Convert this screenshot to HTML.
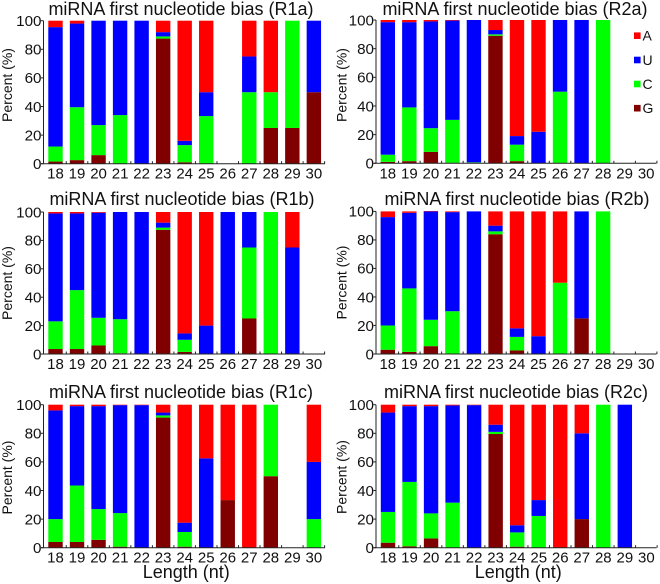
<!DOCTYPE html>
<html><head><meta charset="utf-8"><title>miRNA first nucleotide bias</title>
<style>html,body{margin:0;padding:0;background:#fff}svg{display:block;font-family:"Liberation Sans",sans-serif;filter:blur(0.35px)}</style></head>
<body>
<svg id="chart" xmlns="http://www.w3.org/2000/svg" width="660" height="584" viewBox="0 0 660 584"></svg>
<script>
const lengths = [18,19,20,21,22,23,24,25,26,27,28,29,30];
const yTicks = [0,20,40,60,80,100];
const r1aG = [1.5,2.5,6,0,0,87.5,1,0,0,0,25,25,50];
const r1aC = [10.5,37,21,34,0,1.5,12,33.3,0,50,25,75,0];
const r1aU = [83.5,58.5,73,66,100,3,3,16.7,0,25,0,0,50];
const r1aA = [4.5,2,0,0,0,8,84,50,0,25,50,0,0];
const r2aG = [1,1.5,8,0.3,0,89,1.5,0,0,0,0,0,0];
const r2aC = [5,37.5,16.5,30,0.7,1,11.5,0,50,0,100,0,0];
const r2aU = [92.5,59.5,74.5,69.3,99.3,3,6,22,50,100,0,0,0];
const r2aA = [1.5,1.5,1,0.4,0,7,81,78,0,0,0,0,0];
const r1bG = [3.5,3.5,6,0.5,0,87.5,1.5,0,0,25,0,0,0];
const r1bC = [19.5,41.5,19.5,24,0,1.5,8.5,0,0,50,100,0,0];
const r1bU = [76,54,74,75.5,100,3.5,4.5,20,100,25,0,75,0];
const r1bA = [1,1,0.5,0,0,7.5,85.5,80,0,0,0,25,0];
const r2bG = [3,1.5,5.5,0.3,0,84,2.5,0,0,25,0,0,0];
const r2bC = [17,44.5,18.5,29.7,0,2,9.5,0,50,0,100,0,0];
const r2bU = [76,53,76,69.5,100,4,6,12.5,0,75,0,0,0];
const r2bA = [4,1,0.3,0.5,0,10,82,87.5,50,0,0,0,0];
const r1cG = [4,4,5.5,0.7,0,91,0.7,0,33.3,0,50,0,0];
const r1cC = [16,39.5,21.5,23.5,0,1.5,10.3,0,0,0,50,0,20];
const r1cU = [76,55.5,72,75.5,99.7,2,6.5,62.5,0,0,0,0,40];
const r1cA = [4,1,1,0.3,0.3,5.5,82.5,37.5,66.7,100,0,0,40];
const r2cG = [3.5,1,6.5,0,0,79.5,0.7,0,0,20,0,0,0];
const r2cC = [21.5,45,17.5,31.5,0,1.5,10,22.2,0,0,100,0,0];
const r2cU = [69.5,53,75,68,99.7,5,5,11.1,0,60,0,100,0];
const r2cA = [5.5,1,1,0.5,0.3,14,84.3,66.7,100,20,0,0,0];

const NS = 'http://www.w3.org/2000/svg';
const svg = document.getElementById('chart');
const STEP = 21.53, BARW = 14.4;
const colors = {G:'#800000', C:'#00ff00', U:'#0000ff', A:'#ff0000'};
const panels = [
  {id:'R1a', x0:55.5, top:20.7, bot:163.7, ax0:43.5, ax1:325, title:[181,15], ylx:12, yly:85, g:r1aG,c:r1aC,u:r1aU,a:r1aA},
  {id:'R2a', x0:387.8, top:20, bot:163.3, ax0:376, ax1:656.5, title:[515,15], ylx:346.7, yly:85, g:r2aG,c:r2aC,u:r2aU,a:r2aA},
  {id:'R1b', x0:55.5, top:212, bot:354, ax0:43.5, ax1:325, title:[182,205], ylx:12, yly:283, g:r1bG,c:r1bC,u:r1bU,a:r1bA},
  {id:'R2b', x0:387.8, top:211.4, bot:354, ax0:376, ax1:656.5, title:[517,205], ylx:346.7, yly:282.5, g:r2bG,c:r2bC,u:r2bU,a:r2bA},
  {id:'R1c', x0:55.5, top:404.7, bot:547.7, ax0:43.5, ax1:325, title:[181,398], ylx:12, yly:477.5, g:r1cG,c:r1cC,u:r1cU,a:r1cA},
  {id:'R2c', x0:388, top:404.7, bot:547.7, ax0:376, ax1:656.5, title:[516,398], ylx:346.7, yly:477, g:r2cG,c:r2cC,u:r2cU,a:r2cA}
];
function mk(tag, attrs, parent, text) {
  const el = document.createElementNS(NS, tag);
  for (const k in attrs) el.setAttribute(k, attrs[k]);
  if (text !== undefined) el.textContent = text;
  parent.appendChild(el);
  return el;
}
const AXC = '#222';
panels.forEach(function (p) {
  const key = p.id.toLowerCase();
  const xs = function (i) { return p.x0 + i * STEP; };
  const ys = function (v) { return p.bot - (p.bot - p.top) * v / 100; };
  const g = mk('g', {}, svg);
  
  

  const title = mk('text', {x:p.title[0], y:p.title[1], 'text-anchor':'middle', 'font-size':18, fill:'#111'}, g, 'miRNA first nucleotide bias (' + p.id + ')');
  
  

  const stacks = [['G',p.g],['C',p.c],['U',p.u],['A',p.a]];
  lengths.forEach(function (len, i) {
    let cum = 0;
    stacks.forEach(function (s) {
      const v = s[1][i];
      if (v > 0) {
        const r = mk('rect', {x:xs(i) - BARW / 2, y:ys(cum + v), width:BARW, height:ys(cum) - ys(cum + v), fill:colors[s[0]]}, g);
        
        
      }
      cum += v;
    });
    const lab = mk('text', {x:xs(i), y:p.bot + 15, 'text-anchor':'middle', 'font-size':15, fill:'#111'}, g, String(len));
    
    
    const tk = mk('line', {x1:xs(i) + STEP / 2, x2:xs(i) + STEP / 2, y1:p.bot, y2:p.bot - 2.5, stroke:AXC, 'stroke-width':1}, g);
    
    
  });

  yTicks.forEach(function (t) {
    const tk = mk('line', {x1:p.ax0 - 2.5, x2:p.ax0, y1:ys(t), y2:ys(t), stroke:AXC, 'stroke-width':1}, g);
    
    
    const lab = mk('text', {x:p.ax0 - 2, y:ys(t) + 5.3, 'text-anchor':'end', 'font-size':15.2, fill:'#111'}, g, String(t));
    
    
  });

  const xa = mk('line', {x1:p.ax0 - 2.5, x2:p.ax1, y1:p.bot, y2:p.bot, stroke:AXC, 'stroke-width':1}, g);
  
  
  const ya = mk('line', {x1:p.ax0, x2:p.ax0, y1:p.top, y2:p.bot, stroke:AXC, 'stroke-width':1}, g);
  
  

  const yl = mk('text', {x:p.ylx, y:p.yly, 'text-anchor':'middle', 'font-size':14, fill:'#111', transform:'rotate(-90 ' + p.ylx + ' ' + p.yly + ')'}, g, 'Percent (%)');
  
  

  if (p.id === 'R1c' || p.id === 'R2c') {
    const xl = mk('text', {x:(p.ax0 + p.ax1) / 2 + 2, y:578, 'text-anchor':'middle', 'font-size':18, fill:'#111'}, g, 'Length (nt)');
    
    
  }
});

const legendKeys = ['A','U','C','G'];
const legendRows = [35.7, 60, 84, 108.2];
const legend = mk('g', {}, svg);


legendKeys.forEach(function (k, i) {
  const sw = mk('rect', {x:634, y:legendRows[i] - 3.3, width:6.6, height:6.6, fill:colors[k]}, legend);
  
  
  const t = mk('text', {x:642.5, y:legendRows[i] + 5, 'font-size':14, fill:'#111'}, legend, k);
  
  
});
</script>
</body></html>
